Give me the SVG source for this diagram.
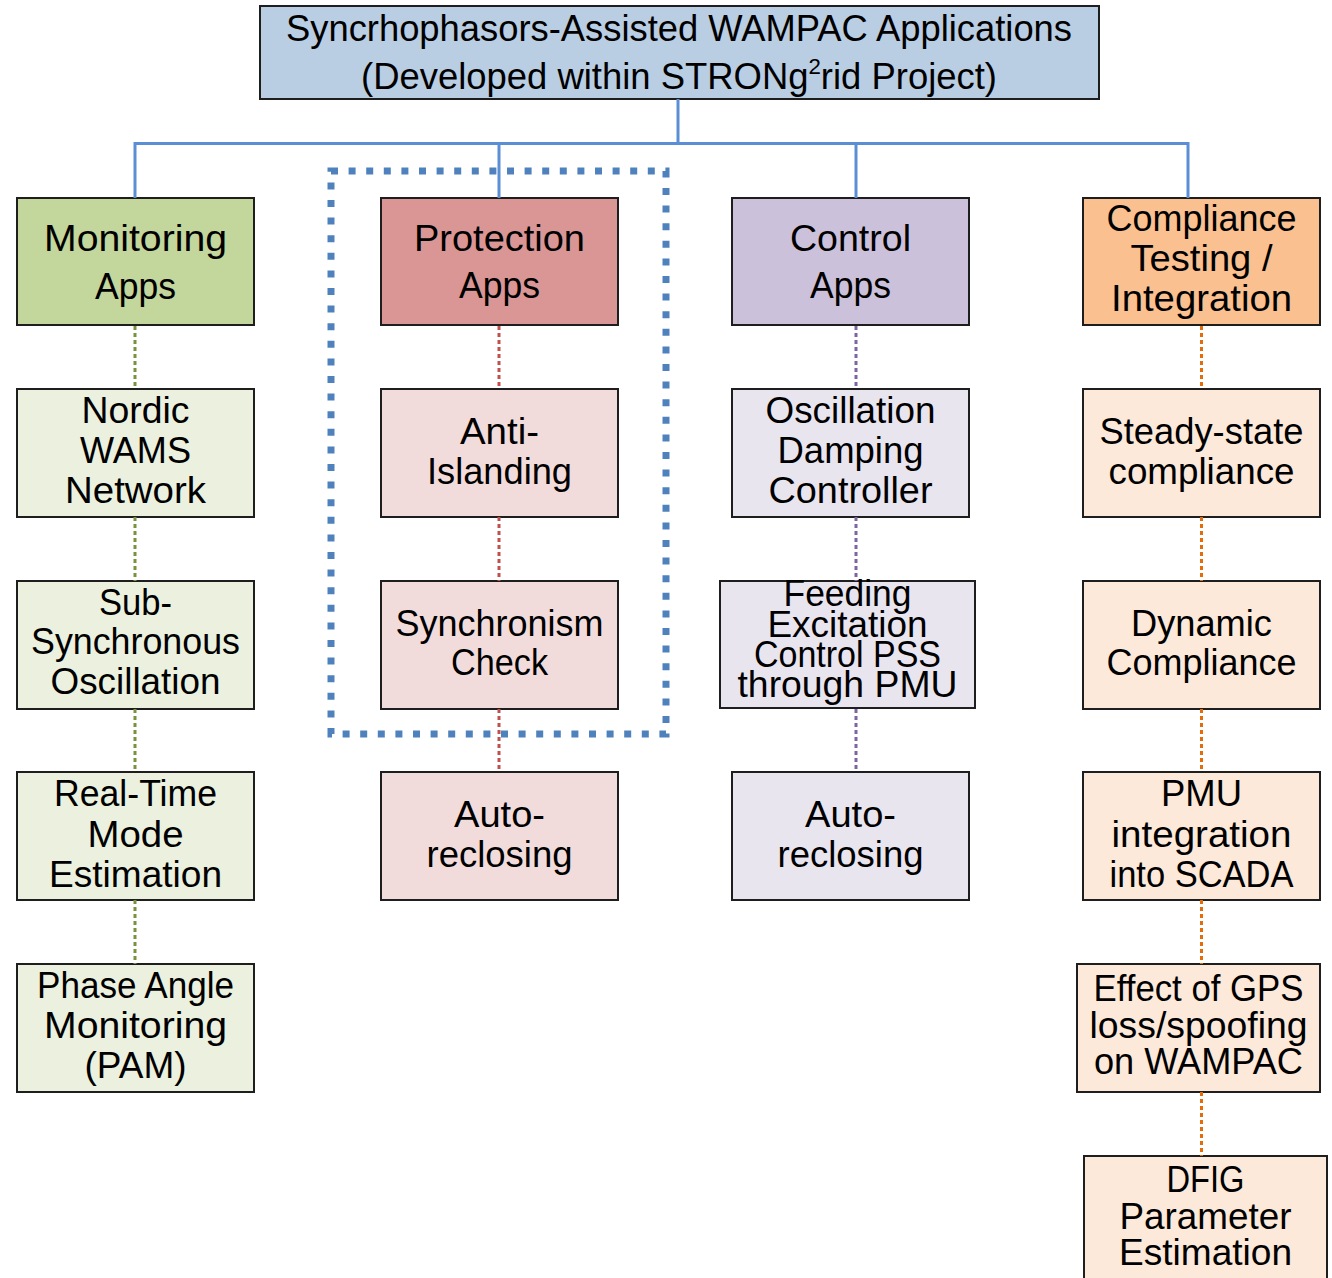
<svg xmlns="http://www.w3.org/2000/svg" width="1332" height="1278" viewBox="0 0 1332 1278">
  <style>
    .box { stroke: #1e1e1e; stroke-width: 2; }
    .t { font-family: "Liberation Sans", Arial, sans-serif; font-size: 36px; text-anchor: middle; fill: #000; }
    .bus { fill: none; stroke: #5a8fd6; stroke-width: 3; }
    .dot { fill: none; stroke-width: 3; stroke-dasharray: 4 3; }
    .green { stroke: #77933c; }
    .red { stroke: #c0504d; }
    .purple { stroke: #8064a2; }
    .orange { stroke: #e46c0a; }
    .mon-h { fill: #c3d69b; } .mon { fill: #ebf1de; }
    .pro-h { fill: #d99694; } .pro { fill: #f2dcdb; }
    .ctl-h { fill: #ccc1da; } .ctl { fill: #e9e5ef; }
    .cmp-h { fill: #fac090; } .cmp { fill: #fde9d9; }
  </style>
  <rect width="1332" height="1278" fill="#fff"/>

  <!-- highlight frame around the protection applications -->
  <rect id="protection-frame" x="331" y="171" width="335" height="563" fill="none" stroke="#4f81bd" stroke-width="7" stroke-dasharray="7 10.6"/>

  <!-- title -->
  <g id="title">
    <rect class="box" x="260" y="6" width="839" height="93" fill="#b9cde3"/>
    <text class="t" x="679" y="41" textLength="786" lengthAdjust="spacingAndGlyphs">Syncrhophasors-Assisted WAMPAC Applications</text>
    <text class="t" x="679" y="89" textLength="636" lengthAdjust="spacingAndGlyphs">(Developed within STRONg<tspan font-size="22" dy="-15">2</tspan><tspan dy="15">rid Project)</tspan></text>
  </g>

  <!-- monitoring column -->
  <g id="monitoring-apps">
    <rect class="box mon-h" x="17" y="198" width="237" height="127"/>
    <text class="t" x="135.5" y="251" textLength="183" lengthAdjust="spacingAndGlyphs">Monitoring</text>
    <text class="t" x="135.5" y="299" textLength="81" lengthAdjust="spacingAndGlyphs">Apps</text>
  </g>
  <g id="nordic-wams">
    <rect class="box mon" x="17" y="389" width="237" height="128"/>
    <text class="t" x="135.5" y="423" textLength="108" lengthAdjust="spacingAndGlyphs">Nordic</text>
    <text class="t" x="135.5" y="463" textLength="111" lengthAdjust="spacingAndGlyphs">WAMS</text>
    <text class="t" x="135.5" y="503" textLength="141" lengthAdjust="spacingAndGlyphs">Network</text>
  </g>
  <g id="sub-synchronous">
    <rect class="box mon" x="17" y="581" width="237" height="128"/>
    <text class="t" x="135.5" y="615" textLength="73" lengthAdjust="spacingAndGlyphs">Sub-</text>
    <text class="t" x="135.5" y="654" textLength="209" lengthAdjust="spacingAndGlyphs">Synchronous</text>
    <text class="t" x="135.5" y="694" textLength="170" lengthAdjust="spacingAndGlyphs">Oscillation</text>
  </g>
  <g id="mode-estimation">
    <rect class="box mon" x="17" y="772" width="237" height="128"/>
    <text class="t" x="135.5" y="806" textLength="163" lengthAdjust="spacingAndGlyphs">Real-Time</text>
    <text class="t" x="135.5" y="847" textLength="96" lengthAdjust="spacingAndGlyphs">Mode</text>
    <text class="t" x="135.5" y="887" textLength="173" lengthAdjust="spacingAndGlyphs">Estimation</text>
  </g>
  <g id="phase-angle">
    <rect class="box mon" x="17" y="964" width="237" height="128"/>
    <text class="t" x="135.5" y="998" textLength="197" lengthAdjust="spacingAndGlyphs">Phase Angle</text>
    <text class="t" x="135.5" y="1038" textLength="183" lengthAdjust="spacingAndGlyphs">Monitoring</text>
    <text class="t" x="135.5" y="1078" textLength="102" lengthAdjust="spacingAndGlyphs">(PAM)</text>
  </g>

  <!-- protection column -->
  <g id="protection-apps">
    <rect class="box pro-h" x="381" y="198" width="237" height="127"/>
    <text class="t" x="499.5" y="251" textLength="171" lengthAdjust="spacingAndGlyphs">Protection</text>
    <text class="t" x="499.5" y="298" textLength="81" lengthAdjust="spacingAndGlyphs">Apps</text>
  </g>
  <g id="anti-islanding">
    <rect class="box pro" x="381" y="389" width="237" height="128"/>
    <text class="t" x="499.5" y="444" textLength="79" lengthAdjust="spacingAndGlyphs">Anti-</text>
    <text class="t" x="499.5" y="484" textLength="145" lengthAdjust="spacingAndGlyphs">Islanding</text>
  </g>
  <g id="synchronism-check">
    <rect class="box pro" x="381" y="581" width="237" height="128"/>
    <text class="t" x="499.5" y="636" textLength="208" lengthAdjust="spacingAndGlyphs">Synchronism</text>
    <text class="t" x="499.5" y="675" textLength="97" lengthAdjust="spacingAndGlyphs">Check</text>
  </g>
  <g id="protection-reclosing">
    <rect class="box pro" x="381" y="772" width="237" height="128"/>
    <text class="t" x="499.5" y="827" textLength="91" lengthAdjust="spacingAndGlyphs">Auto-</text>
    <text class="t" x="499.5" y="867" textLength="146" lengthAdjust="spacingAndGlyphs">reclosing</text>
  </g>

  <!-- control column -->
  <g id="control-apps">
    <rect class="box ctl-h" x="732" y="198" width="237" height="127"/>
    <text class="t" x="850.5" y="251" textLength="121" lengthAdjust="spacingAndGlyphs">Control</text>
    <text class="t" x="850.5" y="298" textLength="81" lengthAdjust="spacingAndGlyphs">Apps</text>
  </g>
  <g id="damping-controller">
    <rect class="box ctl" x="732" y="389" width="237" height="128"/>
    <text class="t" x="850.5" y="423" textLength="170" lengthAdjust="spacingAndGlyphs">Oscillation</text>
    <text class="t" x="850.5" y="463" textLength="146" lengthAdjust="spacingAndGlyphs">Damping</text>
    <text class="t" x="850.5" y="503" textLength="164" lengthAdjust="spacingAndGlyphs">Controller</text>
  </g>
  <g id="feeding-excitation">
    <rect class="box ctl" x="720" y="581" width="255" height="127"/>
    <text class="t" x="847.5" y="606" textLength="128" lengthAdjust="spacingAndGlyphs">Feeding</text>
    <text class="t" x="847.5" y="637" textLength="160" lengthAdjust="spacingAndGlyphs">Excitation</text>
    <text class="t" x="847.5" y="667" textLength="187" lengthAdjust="spacingAndGlyphs">Control PSS</text>
    <text class="t" x="847.5" y="697" textLength="220" lengthAdjust="spacingAndGlyphs">through PMU</text>
  </g>
  <g id="control-reclosing">
    <rect class="box ctl" x="732" y="772" width="237" height="128"/>
    <text class="t" x="850.5" y="827" textLength="91" lengthAdjust="spacingAndGlyphs">Auto-</text>
    <text class="t" x="850.5" y="867" textLength="146" lengthAdjust="spacingAndGlyphs">reclosing</text>
  </g>

  <!-- compliance column -->
  <g id="compliance-testing">
    <rect class="box cmp-h" x="1083" y="198" width="237" height="127"/>
    <text class="t" x="1201.5" y="231" textLength="190" lengthAdjust="spacingAndGlyphs">Compliance</text>
    <text class="t" x="1201.5" y="271" textLength="142" lengthAdjust="spacingAndGlyphs">Testing /</text>
    <text class="t" x="1201.5" y="311" textLength="181" lengthAdjust="spacingAndGlyphs">Integration</text>
  </g>
  <g id="steady-state">
    <rect class="box cmp" x="1083" y="389" width="237" height="128"/>
    <text class="t" x="1201.5" y="444" textLength="204" lengthAdjust="spacingAndGlyphs">Steady-state</text>
    <text class="t" x="1201.5" y="484" textLength="186" lengthAdjust="spacingAndGlyphs">compliance</text>
  </g>
  <g id="dynamic-compliance">
    <rect class="box cmp" x="1083" y="581" width="237" height="128"/>
    <text class="t" x="1201.5" y="636" textLength="141" lengthAdjust="spacingAndGlyphs">Dynamic</text>
    <text class="t" x="1201.5" y="675" textLength="190" lengthAdjust="spacingAndGlyphs">Compliance</text>
  </g>
  <g id="pmu-scada">
    <rect class="box cmp" x="1083" y="772" width="237" height="128"/>
    <text class="t" x="1201.5" y="806" textLength="81" lengthAdjust="spacingAndGlyphs">PMU</text>
    <text class="t" x="1201.5" y="847" textLength="180" lengthAdjust="spacingAndGlyphs">integration</text>
    <text class="t" x="1201.5" y="887" textLength="184" lengthAdjust="spacingAndGlyphs">into SCADA</text>
  </g>
  <g id="gps-spoofing">
    <rect class="box cmp" x="1077" y="964" width="243" height="128"/>
    <text class="t" x="1198.5" y="1001" textLength="210" lengthAdjust="spacingAndGlyphs">Effect of GPS</text>
    <text class="t" x="1198.5" y="1038" textLength="218" lengthAdjust="spacingAndGlyphs">loss/spoofing</text>
    <text class="t" x="1198.5" y="1074" textLength="209" lengthAdjust="spacingAndGlyphs">on WAMPAC</text>
  </g>
  <g id="dfig-estimation">
    <rect class="box cmp" x="1084" y="1156" width="243" height="140"/>
    <text class="t" x="1205.5" y="1192" textLength="78" lengthAdjust="spacingAndGlyphs">DFIG</text>
    <text class="t" x="1205.5" y="1229" textLength="172" lengthAdjust="spacingAndGlyphs">Parameter</text>
    <text class="t" x="1205.5" y="1265" textLength="173" lengthAdjust="spacingAndGlyphs">Estimation</text>
  </g>

  <!-- connectors -->
  <g id="connectors">
    <path class="bus" d="M678 99V143.5M135 198V143.5H1188V198M499 143.5V198M856 143.5V198"/>
    <path class="dot green" d="M135 326V389M135 517V581M135 709V772M135 900V964"/>
    <path class="dot red" d="M499 326V389M499 517V581M499 709V772"/>
    <path class="dot purple" d="M856 326V389M856 517V581M856 709V772"/>
    <path class="dot orange" d="M1201.5 326V389M1201.5 517V581M1201.5 709V772M1201.5 900V964M1201.5 1092V1156"/>
  </g>
</svg>
